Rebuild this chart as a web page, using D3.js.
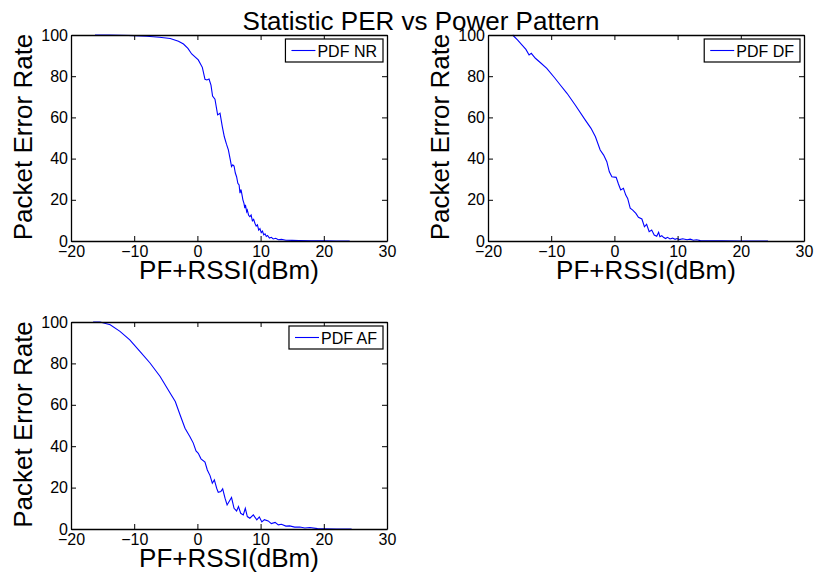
<!DOCTYPE html>
<html>
<head>
<meta charset="utf-8">
<script src="https://cdn.jsdelivr.net/npm/d3@7"></script>
<style>
  body { margin: 0; background: #fff; }
  svg { display: block; font-family: "Liberation Sans", Arial, Helvetica, sans-serif; }
</style>
</head>
<body>
<div id="chart"></div>
<script>
// data
var titleText = "Statistic PER vs Power Pattern";
var xLabel = "PF+RSSI(dBm)", yLabel = "Packet Error Rate";
var xTicks = [-20, -10, 0, 10, 20, 30];
var yTicks = [0, 20, 40, 60, 80, 100];
var legendNames = ["PDF NR", "PDF DF", "PDF AF"];

var nrRssi = [-16.2, -14, -12, -10, -8, -6, -4.3, -3, -2.2, -1.5, -0.9, 0.14, 0.78, 1.2, 1.5, 1.84, 2.15, 2.4, 2.78, 3.2,
  3.58, 3.94, 4.26, 4.6, 4.9, 5.2, 5.4, 5.6, 5.8, 6.0, 6.2, 6.4, 6.6, 6.74, 6.9, 7.0, 7.2, 7.37, 7.5, 7.6,
  7.8, 7.9, 8.1, 8.3, 8.5, 8.7, 8.9, 9.1, 9.3, 9.5, 9.7, 9.9, 10.1, 10.3, 10.5, 10.7, 10.9, 11.1, 11.4, 11.7,
  12.0, 12.4, 12.8, 13.3, 14, 15, 16, 18, 20, 22, 24.1];
var nrPer = [100, 100, 99.9, 99.7, 99.4, 98.9, 98.3, 97, 95.6, 93.5, 90.8, 87.9, 84.3, 78.5, 78.2, 78.6, 75.7, 70.4, 68.8, 61.2,
  62, 55.5, 50.6, 47, 44.2, 39.5, 36.1, 37, 36.4, 33, 31.2, 28, 27.2, 23.2, 25, 23.4, 20, 18.3, 16.0, 17.5,
  14.2, 15.0, 12.5, 11.8, 12.6, 9.8, 10.5, 8.6, 7.2, 7.8, 5.3, 6.0, 4.1, 4.8, 3.0, 3.5, 2.2, 2.7, 1.4, 1.8,
  1.0, 1.3, 0.6, 0.8, 0.4, 0.3, 0.2, 0.1, 0.05, 0, 0];

var dfRssi = [-16.1, -15.3, -14.6, -14, -13.5, -13.15, -12.5, -11.6, -10.7, -9.4, -8.5, -7.5, -6.2, -4.6, -3.7, -3.0, -2.25, -1.7, -1.2, -0.8,
  -0.4, 0.28, 0.64, 1.0, 1.43, 1.8, 2.1, 2.5, 2.9, 3.4, 3.8, 4.35, 4.75, 5.1, 5.5, 5.9, 6.3, 6.7, 7.0, 7.2,
  7.5, 7.76, 8.1, 8.4, 8.8, 9.2, 9.6, 9.9, 10.3, 10.8, 11.5, 12.0, 12.5, 13.0, 13.6, 15, 17, 20, 24.3];
var dfPer = [100, 97.5, 95.1, 93, 90.3, 91.1, 88.7, 86.3, 83.8, 79, 75.5, 71.7, 66, 58.7, 54.7, 50.6, 44.2, 41.7, 38.5, 33.6,
  31.2, 30.9, 27.7, 24.8, 25.6, 22.3, 20.7, 15.9, 15.0, 13.4, 11.5, 10.7, 6.9, 8.1, 4.5, 5.3, 2.9, 2.3, 4.2, 2.1,
  2.6, 1.8, 1.2, 1.8, 1.0, 1.4, 0.8, 1.2, 0.7, 1.1, 0.6, 0.9, 0.4, 0.6, 0.2, 0.1, 0.05, 0, 0];

var afRssi = [-16.5, -15.4, -13.8, -12.25, -10.7, -9.1, -7.5, -5.9, -4.3, -3.5, -2.75, -1.96, -1.2, -0.65, -0.22, 0.14, 0.57, 1.2, 1.57, 2.0,
  2.36, 2.68, 3.05, 3.3, 3.7, 4.0, 4.37, 4.7, 5.16, 5.4, 5.8, 6.2, 6.5, 6.85, 7.26, 7.58, 7.9, 8.3, 8.85, 9.4,
  9.8, 10.2, 10.6, 11.2, 11.7, 12.3, 12.8, 13.3, 14.0, 14.6, 15.4, 16.2, 17.0, 17.8, 19, 20, 22, 24.4];
var afPer = [100, 100, 98.7, 95.5, 91.4, 85.8, 80.2, 73.7, 65.6, 61.6, 55.2, 48.7, 44.7, 41.5, 37.7, 36.6, 33.9, 32.3, 28.5, 25.8,
  22.1, 23.7, 19.7, 17.7, 18.1, 19.4, 14.9, 11.6, 14.0, 15.2, 10.0, 8.7, 10.8, 7.6, 6.8, 10.0, 6.0, 5.2, 6.8, 4.4,
  5.8, 3.4, 4.5, 3.9, 2.6, 3.2, 2.0, 2.3, 1.4, 1.5, 0.9, 1.0, 0.5, 0.7, 0.2, 0.1, 0, 0];

// build panels from the arrays
var series = [
  {name: legendNames[0], x: nrRssi, y: nrPer},
  {name: legendNames[1], x: dfRssi, y: dfPer},
  {name: legendNames[2], x: afRssi, y: afPer}
];
// axes boxes in page pixels
var boxes = [
  {left: 71, top: 35, width: 316, height: 206},
  {left: 488, top: 35, width: 316, height: 206},
  {left: 71, top: 322, width: 316, height: 207}
];

var W = 814, H = 574;
var svg = d3.select("#chart").append("svg").attr("width", W).attr("height", H);
svg.append("rect").attr("width", W).attr("height", H).style("fill", "#fff");

// title
svg.append("text").attr("x", 421).attr("y", 30)
  .attr("text-anchor", "middle").style("font-size", "26px").style("fill", "#000")
  .text(titleText);

series.forEach(function(s, i) {
  var b = boxes[i];
  var xScale = d3.scaleLinear().domain([-20, 30]).range([0, b.width]);
  var yScale = d3.scaleLinear().domain([0, 100]).range([b.height, 0]);

  var g = svg.append("g").attr("transform", "translate(" + b.left + "," + b.top + ")");

  // plot line
  var pts = s.x.map(function(v, k) { return [v, s.y[k]]; });
  var line = d3.line().x(function(d) { return xScale(d[0]); }).y(function(d) { return yScale(d[1]); });
  g.append("path").datum(pts).attr("d", line)
    .style("fill", "none").style("stroke", "#0000ff").style("stroke-width", "1.1px");

  // axes, ticks inward on all four sides
  var xb = g.append("g").attr("transform", "translate(0," + b.height + ")")
    .call(d3.axisBottom(xScale).tickValues(xTicks).tickSizeInner(-5).tickSizeOuter(0));
  xb.selectAll("text").attr("y", 16).attr("dy", 0).style("font-size", "16px").style("fill", "#000");
  g.append("g").call(d3.axisTop(xScale).tickValues(xTicks).tickSizeInner(-5).tickSizeOuter(0).tickFormat(""));
  var yl = g.append("g")
    .call(d3.axisLeft(yScale).tickValues(yTicks).tickSizeInner(-5).tickSizeOuter(0));
  yl.selectAll("text").attr("x", -3).style("font-size", "16px").style("fill", "#000");
  g.append("g").attr("transform", "translate(" + b.width + ",0)")
    .call(d3.axisRight(yScale).tickValues(yTicks).tickSizeInner(-5).tickSizeOuter(0).tickFormat(""));
  g.selectAll(".domain").style("stroke", "#000").style("stroke-width", "1.3px");
  g.selectAll(".tick line").style("stroke", "#000");

  // axis names
  g.append("text").attr("x", b.width / 2).attr("y", b.height + 38)
    .attr("text-anchor", "middle").style("font-size", "26px").style("fill", "#000")
    .text(xLabel);
  g.append("text").attr("transform", "rotate(-90)")
    .attr("x", -b.height / 2 + 1).attr("y", -39)
    .attr("text-anchor", "middle").style("font-size", "26px").style("fill", "#000")
    .text(yLabel);

  // legend, top right inside axes
  var lg = g.append("g");
  var lt = lg.append("text").attr("y", 22).style("font-size", "16px").style("fill", "#000").text(s.name);
  var tw = lt.node().getComputedTextLength();
  var bw = tw + 38, bx = b.width - 4 - bw;
  lg.insert("rect", "text").attr("x", bx).attr("y", 4).attr("width", bw).attr("height", 23)
    .style("fill", "#fff").style("stroke", "#000").style("stroke-width", "1.2px");
  lg.append("line").attr("x1", bx + 6).attr("x2", bx + 30).attr("y1", 15.5).attr("y2", 15.5)
    .style("stroke", "#0000ff").style("stroke-width", "1.1px");
  lt.attr("x", bx + 32);
});
</script>
</body>
</html>
